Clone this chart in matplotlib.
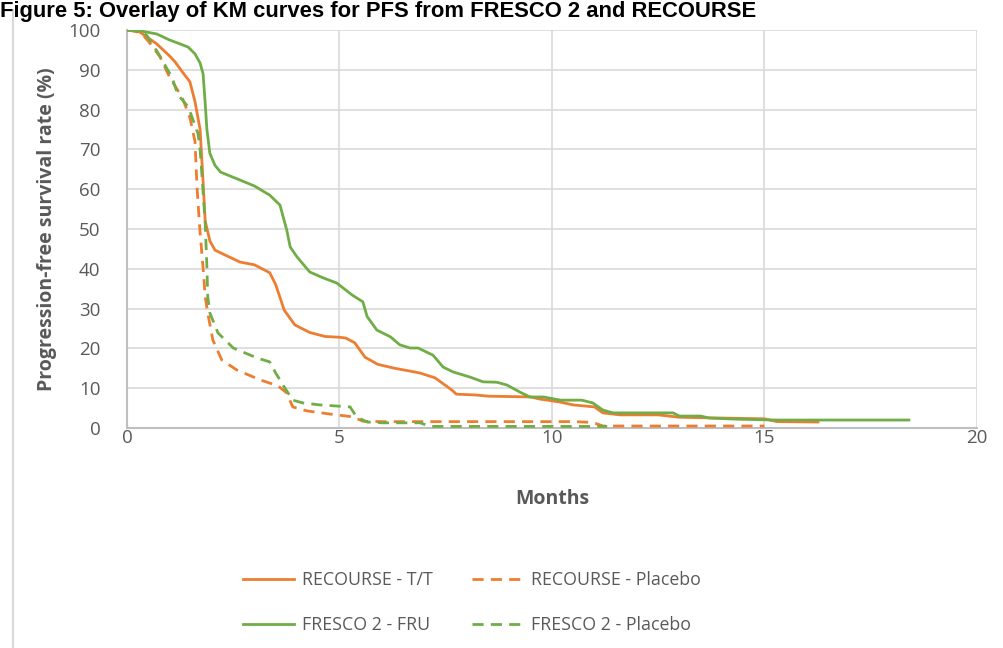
import numpy as np
import matplotlib.pyplot as plt
from matplotlib.lines import Line2D

plt.rcParams['font.family'] = ['Open Sans', 'DejaVu Sans']

# RECOURSE - T/T
rec_tt_x = [0, 0.3, 0.5, 0.7, 1.0, 1.13, 1.3, 1.48, 1.6, 1.72, 1.79, 1.84, 1.95, 2.07, 2.3, 2.66, 3.0,
            3.36, 3.5, 3.7, 3.95, 4.3, 4.66, 5.0, 5.15, 5.36, 5.6, 5.9, 6.3, 6.66, 6.9, 7.25, 7.65,
            7.75, 8.2, 8.5, 9.5, 9.7, 10.2, 10.5, 11.0, 11.2, 11.6, 12.5, 13.0, 14.0, 15.0, 15.3, 16.26]
rec_tt_y = [100, 99.5, 98, 96.5, 93.5, 92, 89.5, 87, 82, 75, 62, 52, 47, 44.7, 43.5, 41.7, 41,
            39, 36, 29.6, 25.9, 24, 23, 22.8, 22.6, 21.4, 17.8, 16, 15, 14.3, 13.8, 12.6, 9.5,
            8.5, 8.3, 8, 7.8, 7.3, 6.5, 5.8, 5.3, 3.8, 3.3, 3.3, 2.7, 2.5, 2.3, 1.6, 1.5]

# RECOURSE - Placebo
rec_pl_x = [0, 0.2, 0.38, 0.54, 0.78, 1.0, 1.3, 1.48, 1.6, 1.65, 1.72, 1.8, 1.84, 1.9, 2.02, 2.23,
            2.58, 3.13, 3.55, 3.76, 3.9, 4.23, 4.78, 5.32, 5.55, 6.0, 8.0, 10.5, 10.96, 11.2, 15.0]
rec_pl_y = [100, 99.7, 98.7, 96.7, 93.2, 88.2, 83, 78, 72, 60, 49, 39, 33, 28.9, 22.1, 17.1,
            14.6, 12.1, 10.6, 8.8, 5.3, 4.3, 3.5, 2.8, 1.7, 1.6, 1.6, 1.6, 1.4, 0.5, 0.5]

# FRESCO 2 - FRU
fru_x = [0, 0.2, 0.45, 0.7, 1.0, 1.25, 1.44, 1.6, 1.72, 1.79, 1.84, 1.88, 1.95, 2.07, 2.2, 2.66,
         3.0, 3.36, 3.6, 3.76, 3.84, 4.0, 4.3, 4.6, 4.94, 5.3, 5.55, 5.65, 5.88, 6.2, 6.42, 6.66,
         6.85, 7.2, 7.44, 7.67, 8.07, 8.38, 8.7, 8.94, 9.25, 9.48, 9.8, 10.2, 10.7, 10.96, 11.2,
         11.44, 12.85, 13.0, 13.5, 13.7, 14.4, 15.3, 18.4]
fru_y = [100, 100, 99.5, 99, 97.5, 96.5, 95.7, 94, 91.7, 89, 81.6, 75, 69, 66, 64.3, 62.3,
         60.8, 58.5, 56, 49.7, 45.5, 43, 39.2, 37.8, 36.4, 33.4, 31.7, 28, 24.6, 22.9, 20.9, 20.1,
         20.1, 18.3, 15.3, 14.1, 12.8, 11.6, 11.5, 10.8, 9.0, 7.8, 7.8, 7.0, 7.0, 6.3, 4.5,
         3.8, 3.8, 3.0, 3.0, 2.5, 2.2, 2.0, 2.0]

# FRESCO 2 - Placebo
fre_pl_x = [0, 0.3, 0.46, 0.6, 0.8, 1.06, 1.2, 1.44, 1.67, 1.72, 1.76, 1.84, 1.88, 1.9, 1.95, 2.14,
            2.5, 3.06, 3.36, 3.5, 3.7, 3.9, 4.14, 4.54, 5.25, 5.4, 5.65, 6.0, 6.9, 7.13, 11.3]
fre_pl_y = [100, 99.7, 98.7, 96.5, 93, 88, 83.7, 80.7, 74, 70, 64, 51.5, 40.5, 33, 28.9, 23.9,
            20.1, 17.6, 16.6, 13.8, 10.3, 7.0, 6.3, 5.8, 5.3, 2.8, 1.5, 1.3, 1.3, 0.4, 0.4]

orange = '#ED7D31'
green = '#70AD47'
grid_c = '#D9D9D9'
txt_c = '#595959'

fig = plt.figure(figsize=(10.04, 6.48), dpi=100)
ax = fig.add_axes([0.1265, 0.3395, 0.8465, 0.6142])

lw = 2.0
ax.plot(rec_tt_x, rec_tt_y, color=orange, lw=lw, label='RECOURSE - T/T', zorder=3)
ax.plot(fru_x, fru_y, color=green, lw=lw, label='FRESCO 2 - FRU', zorder=3)
ax.plot(rec_pl_x, rec_pl_y, color=orange, lw=lw, dashes=(4, 2.6), label='RECOURSE - Placebo', zorder=3)
ax.plot(fre_pl_x, fre_pl_y, color=green, lw=lw, dashes=(4, 2.6), label='FRESCO 2 - Placebo', zorder=3)

ax.set_xlim(0, 20)
ax.set_ylim(0, 100)
ax.set_xticks(np.arange(0, 21, 5))
ax.set_yticks(np.arange(0, 101, 10))
ax.grid(True, color=grid_c, lw=1.2)
ax.set_axisbelow(True)
for s in ['top', 'right']:
    ax.spines[s].set_visible(False)
for s in ['left', 'bottom']:
    ax.spines[s].set_color('#BFBFBF')
    ax.spines[s].set_linewidth(1.5)
ax.tick_params(length=0, labelsize=13.5, labelcolor=txt_c)
ax.tick_params(axis='y', pad=19)
ax.tick_params(axis='x', pad=1)

ax.set_xlabel('Months', fontsize=14, fontweight='bold', color=txt_c, labelpad=30)
ax.set_ylabel('Progression-free survival rate (%)', fontsize=14, fontweight='bold',
              color=txt_c, labelpad=8)

leg = fig.legend(loc='center', bbox_to_anchor=(0.47, 0.0702), ncol=2, frameon=False,
                 fontsize=12.8, handlelength=2.9, handletextpad=0.4, columnspacing=2.25,
                 labelspacing=1.55)
for t in leg.get_texts():
    t.set_color(txt_c)

# chart-area border on the left
fig.add_artist(Line2D([13 / 1004, 13 / 1004], [0, 1 - 10 / 648], transform=fig.transFigure,
                      color=grid_c, lw=1.5))

# heading at the top of the page
fig.text(0.0, 1 - 17 / 648, 'Figure 5: Overlay of KM curves for PFS from FRESCO 2 and RECOURSE',
         fontsize=15.8, fontweight='bold', family='Liberation Sans', ha='left', va='baseline',
         color='black')

fig.savefig('out.png', dpi=100)
